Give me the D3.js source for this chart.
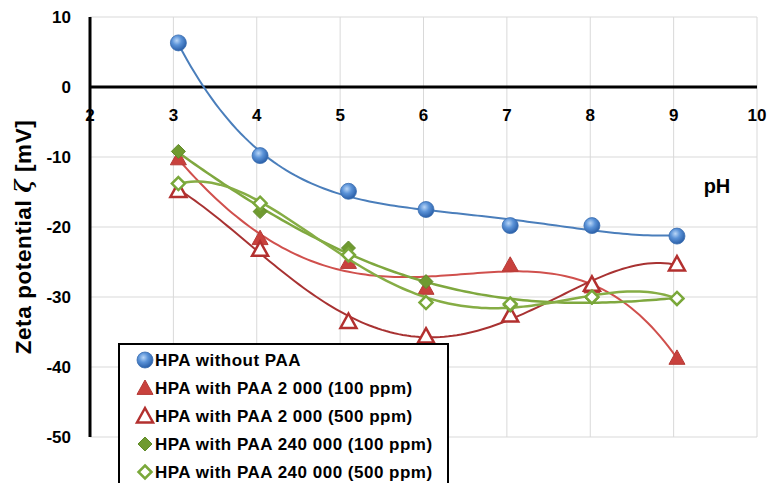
<!DOCTYPE html>
<html><head><meta charset="utf-8">
<script src="https://cdn.jsdelivr.net/npm/d3@7"></script>
<style>
html,body{margin:0;padding:0;background:#fff;}
svg{display:block;font-family:"Liberation Sans",Arial,sans-serif;font-weight:bold;}
</style></head>
<body>
<svg id="chart" width="767" height="483"></svg>
<script>
const phValues = [3.06, 4.04, 5.1, 6.03, 7.04, 8.02, 9.04];
const blueVals = [6.3, -9.8, -14.9, -17.5, -19.8, -19.8, -21.3];
const red100Vals = [-10.2, -21.6, -25.0, -28.7, -25.4, -28.5, -38.7];
const red500Vals = [-14.8, -23.2, -33.5, -35.6, -32.6, -28.2, -25.3];
const green100Vals = [-9.2, -17.8, -23.0, -27.8, -31.2, -30.1, -30.3];
const green500Vals = [-13.8, -16.6, -24.0, -30.8, -31.0, -30.0, -30.2];
const trendOrders = [4, 4, 4, 4, 4];
const xTicks = [2, 3, 4, 5, 6, 7, 8, 9, 10];
const yTicks = [10, 0, -10, -20, -30, -40, -50];
const seriesNames = ["HPA without PAA", "HPA with PAA 2 000 (100 ppm)", "HPA with PAA 2 000 (500 ppm)", "HPA with PAA 240 000 (100 ppm)", "HPA with PAA 240 000 (500 ppm)"];

const svg = d3.select("#chart");
const x = d3.scaleLinear().domain([2, 10]).range([90, 757]);
const y = d3.scaleLinear().domain([-50, 10]).range([437, 17]);

const defs = svg.append("defs");
const rg = defs.append("radialGradient").attr("id", "ball").attr("cx", "40%").attr("cy", "35%").attr("r", "65%");
rg.append("stop").attr("offset", "0%").attr("stop-color", "#b9d6f7");
rg.append("stop").attr("offset", "45%").attr("stop-color", "#5b93d8");
rg.append("stop").attr("offset", "100%").attr("stop-color", "#2a5fa8");

// polynomial least-squares trendline (like a spreadsheet trendline)
function polyFit(xs, ys, order) {
  const c = 6;
  const n = order + 1;
  const A = Array.from({length: n}, () => new Array(n + 1).fill(0));
  xs.forEach((xv, k) => {
    const t = xv - c;
    for (let i = 0; i < n; i++) {
      for (let j = 0; j < n; j++) A[i][j] += Math.pow(t, i + j);
      A[i][n] += ys[k] * Math.pow(t, i);
    }
  });
  for (let i = 0; i < n; i++) {
    let p = i;
    for (let r = i + 1; r < n; r++) if (Math.abs(A[r][i]) > Math.abs(A[p][i])) p = r;
    [A[i], A[p]] = [A[p], A[i]];
    for (let r = 0; r < n; r++) {
      if (r === i) continue;
      const f = A[r][i] / A[i][i];
      for (let k = i; k <= n; k++) A[r][k] -= f * A[i][k];
    }
  }
  const coef = A.map((row, i) => row[n] / row[i]);
  return xv => coef.reduce((s, a, i) => s + a * Math.pow(xv - c, i), 0);
}

// gridlines
const grid = svg.append("g");
grid.selectAll(".vg").data(xTicks.slice(1)).enter().append("line")
  .attr("x1", d => x(d)).attr("x2", d => x(d)).attr("y1", y(10)).attr("y2", y(-50))
  .attr("stroke", "#d9d9d9").attr("stroke-width", 1);
grid.selectAll(".hg").data(yTicks).enter().append("line")
  .attr("x1", x(2)).attr("x2", x(10)).attr("y1", d => y(d)).attr("y2", d => y(d))
  .attr("stroke", "#d9d9d9").attr("stroke-width", 1);

// axes lines
svg.append("line").attr("x1", x(2)).attr("x2", x(2)).attr("y1", y(10)).attr("y2", y(-50))
  .attr("stroke", "#000").attr("stroke-width", 3);
svg.append("line").attr("x1", x(2)).attr("x2", x(10)).attr("y1", y(0)).attr("y2", y(0))
  .attr("stroke", "#000").attr("stroke-width", 3);

// tick labels
svg.selectAll(".yt").data(yTicks).enter().append("text")
  .attr("x", 71).attr("y", d => y(d)).attr("dy", "0.36em").attr("text-anchor", "end")
  .attr("font-size", 17).text(d => d);
svg.selectAll(".xt").data(xTicks).enter().append("text")
  .attr("x", d => x(d)).attr("y", 121).attr("text-anchor", "middle")
  .attr("font-size", 17).text(d => d);

// axis titles
const yt = svg.append("text").attr("transform", "translate(31,237) rotate(-90)")
  .attr("text-anchor", "middle").attr("font-size", 22.5).attr("letter-spacing", 0.6);
yt.append("tspan").text("Zeta potential ");
yt.append("tspan").attr("font-style", "italic").attr("font-family", "DejaVu Serif").text("ζ");
yt.append("tspan").text(" [mV]");
svg.append("text").attr("x", 717).attr("y", 193).attr("text-anchor", "middle")
  .attr("font-size", 20).text("pH");

const series = [
  {vals: blueVals, line: "#4a7ebb", w: 2, mk: "circle"},
  {vals: red100Vals, line: "#d0504d", w: 2, mk: "triF"},
  {vals: red500Vals, line: "#a83232", w: 2, mk: "triO"},
  {vals: green100Vals, line: "#7fa83f", w: 2.5, mk: "diaF"},
  {vals: green500Vals, line: "#86ad45", w: 2.5, mk: "diaO"}
];

const lineGen = d3.line().x(d => x(d[0])).y(d => y(d[1]));

function drawMarker(g, type, cx, cy) {
  if (type === "circle") {
    g.append("circle").attr("cx", cx).attr("cy", cy).attr("r", 8).attr("fill", "url(#ball)")
      .attr("stroke", "#3a6db0").attr("stroke-width", 0.8);
  } else if (type === "triF" || type === "triO") {
    const s = 8;
    const p = [[cx, cy - s], [cx + s, cy + s * 0.8], [cx - s, cy + s * 0.8]];
    g.append("polygon").attr("points", p.map(q => q.join(",")).join(" "))
      .attr("fill", type === "triF" ? "#c9413d" : "#fff")
      .attr("stroke", type === "triF" ? "#b53a36" : "#b3302f").attr("stroke-width", type === "triF" ? 1 : 2.5)
      .attr("stroke-linejoin", "miter");
  } else {
    const s = type === "diaF" ? 7 : 6.5;
    const p = [[cx, cy - s], [cx + s, cy], [cx, cy + s], [cx - s, cy]];
    g.append("polygon").attr("points", p.map(q => q.join(",")).join(" "))
      .attr("fill", type === "diaF" ? "#6f9a30" : "#fff")
      .attr("stroke", type === "diaF" ? "#5f8a28" : "#7aa83a").attr("stroke-width", type === "diaF" ? 1 : 2.5);
  }
}

series.forEach((s, si) => {
  const pts = phValues.map((p, i) => [p, s.vals[i]]);
  const f = polyFit(phValues, s.vals, trendOrders[si]);
  const x0 = d3.min(phValues), x1 = d3.max(phValues);
  const curve = d3.range(0, 121).map(k => { const xv = x0 + (x1 - x0) * k / 120; return [xv, f(xv)]; });
  svg.append("path").datum(curve).attr("d", lineGen).attr("fill", "none")
    .attr("stroke", s.line).attr("stroke-width", s.w);
  const g = svg.append("g");
  pts.forEach(p => drawMarker(g, s.mk, x(p[0]), y(p[1])));
});

// legend
const lg = svg.append("g");
lg.append("rect").attr("x", 119).attr("y", 344).attr("width", 329).attr("height", 160)
  .attr("fill", "#fff").attr("stroke", "#000").attr("stroke-width", 2);
seriesNames.forEach((n, i) => {
  const ly = 360 + i * 28;
  drawMarker(lg, series[i].mk, 145, ly);
  lg.append("text").attr("x", 155).attr("y", ly).attr("dy", "0.36em")
    .attr("font-size", 17).attr("letter-spacing", 0.5).text(n);
});
</script>
</body></html>
